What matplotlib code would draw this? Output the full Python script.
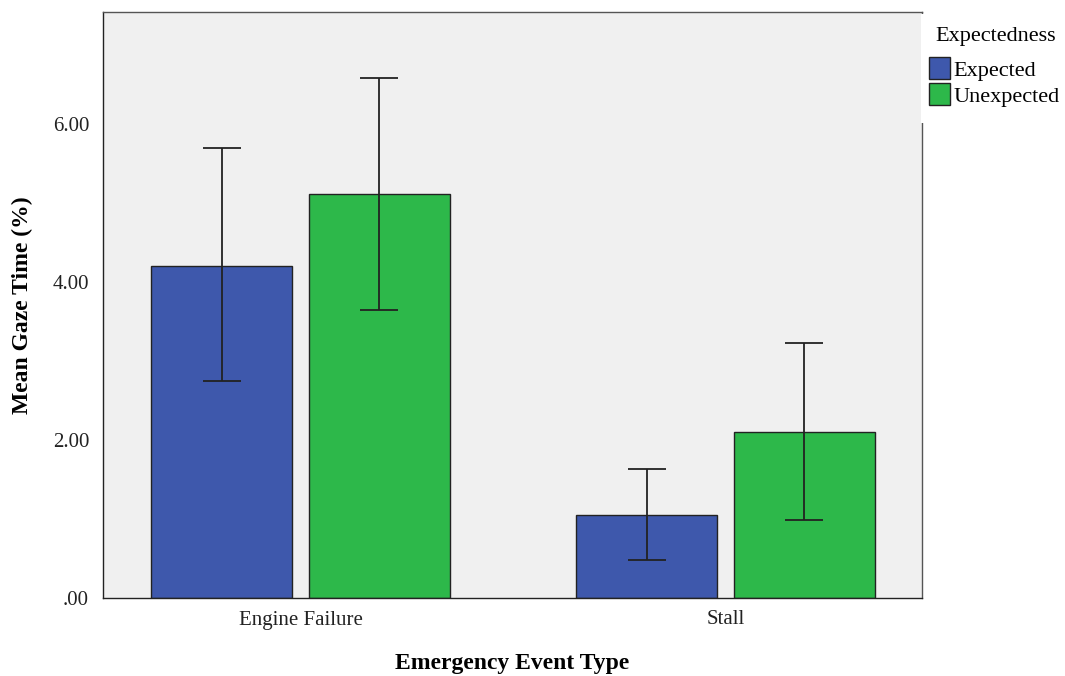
import numpy as np
import matplotlib.pyplot as plt
from matplotlib.patches import Rectangle

plt.rcParams['font.family'] = ['Liberation Serif', 'DejaVu Serif']

categories = ['Engine Failure', 'Stall']
groups = ['Expected', 'Unexpected']
means = {'Expected': [4.21, 1.05], 'Unexpected': [5.11, 2.10]}
err_lo = {'Expected': [2.75, 0.48], 'Unexpected': [3.65, 0.99]}
err_hi = {'Expected': [5.70, 1.63], 'Unexpected': [6.59, 3.23]}
colors = {'Expected': '#3e58ac', 'Unexpected': '#2db84a'}
offsets = {'Expected': -0.185, 'Unexpected': 0.185}

W, H = 1065, 676
fig = plt.figure(figsize=(W / 100, H / 100), dpi=100)
ax = fig.add_axes([103 / W, 1 - 598 / H, 819 / W, 586 / H])
ax.set_facecolor('#f0f0f0')

x = np.arange(len(categories))
handles = []
for g in groups:
    m = np.array(means[g])
    lo = m - np.array(err_lo[g])
    hi = np.array(err_hi[g]) - m
    b = ax.bar(x + offsets[g], m, width=0.332, color=colors[g], edgecolor='#222222',
               linewidth=1, label=g, zorder=2)
    handles.append(b)
    ax.errorbar(x + offsets[g], m, yerr=[lo, hi], fmt='none', ecolor='#222222',
                elinewidth=1.3, capsize=14, capthick=1.3, zorder=3)

ax.set_xlim(-0.4647, 1.4624)
ax.set_ylim(0, 7.42)
ax.set_yticks([0, 2, 4, 6])
ax.set_yticklabels(['.00', '2.00', '4.00', '6.00'])
ax.set_xticks(x)
ax.set_xticklabels(categories)
ax.tick_params(length=0, labelsize=15, colors='#222222')
ax.tick_params(axis='x', pad=9)
ax.tick_params(axis='y', pad=10)
for s in ax.spines.values():
    s.set_color('#555555')
    s.set_linewidth(1)
ax.spines['left'].set_color('#222222')
ax.spines['bottom'].set_color('#222222')

ax.set_xlabel('Emergency Event Type', fontsize=17, fontweight='bold', va='center')
ax.xaxis.set_label_coords(0.5, -(664 - 598) / 586)
ax.set_ylabel('Mean Gaze Time (%)', fontsize=17, fontweight='bold', va='center')
ax.yaxis.set_label_coords((22 - 103) / 819, 0.5)

# white box that hides part of the right spine behind the legend
fig.patches.append(Rectangle((921 / W, 1 - 123 / H), (W - 921) / W, 109 / H,
                             transform=fig.transFigure, facecolor='white',
                             edgecolor='none', zorder=3))
fig.text(935 / W, 1 - 37 / H, 'Expectedness', fontsize=16, va='center', ha='left',
         zorder=4)
leg = fig.legend(handles, groups, loc='upper left', bbox_to_anchor=(929 / W, 1 - 57 / H),
                 frameon=False, fontsize=16, handlelength=0.95, handleheight=1.15,
                 handletextpad=0.15, labelspacing=0.12, borderaxespad=0, borderpad=0)
leg.set_zorder(5)

fig.savefig('out.png', dpi=100)
